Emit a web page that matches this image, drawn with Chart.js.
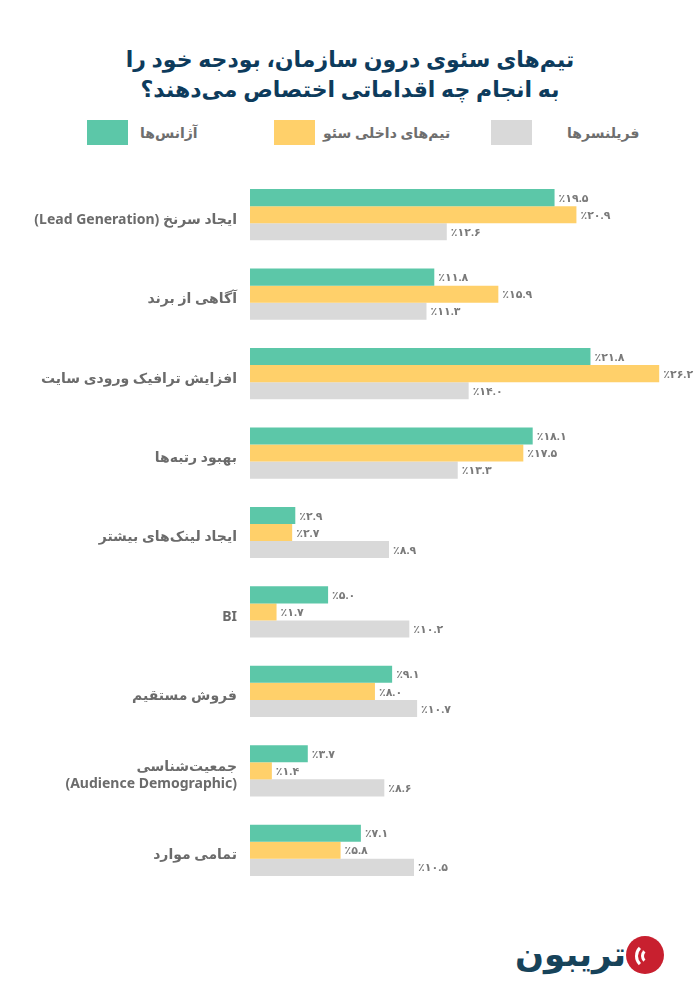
<!DOCTYPE html>
<html lang="fa">
<head>
<meta charset="utf-8">
<script src="https://cdn.jsdelivr.net/npm/chart.js@4.4.1/dist/chart.umd.min.js"></script>
<style>
  body { margin: 0; background: #fff; width: 700px; height: 1000px; position: relative; overflow: hidden;
         font-family: "Noto Sans", "DejaVu Sans", sans-serif; }
  #title { position: absolute; top: 43px; left: 0; width: 700px; text-align: center; direction: rtl;
           font-weight: bold; font-size: 22px; line-height: 30px; color: #0d3b5c; }
  .lg-box { position: absolute; top: 120px; width: 41px; height: 25px; }
  .lg-text { position: absolute; top: 120px; height: 25px; line-height: 25px; font-size: 14px;
             font-weight: bold; color: #6e6e6e; direction: rtl; white-space: nowrap; }
  #wrap { position: absolute; top: 160px; left: 0; width: 700px; height: 740px; }
  #logo-circle { position: absolute; left: 626px; top: 936px; width: 38px; height: 38px; border-radius: 50%;
                 background: #c8202f; overflow: hidden; }
  .arc { position: absolute; border: 3px solid #fff; border-radius: 50%; border-right-color: transparent;
         border-top-color: transparent; border-bottom-color: transparent; }
  #logo-text { position: absolute; right: 74px; top: 930px; font-size: 34px; font-weight: bold; color: #17435a;
               direction: rtl; line-height: 46px; }
</style>
</head>
<body>
<div id="title">تیم‌های سئوی درون سازمان، بودجه خود را<br>به انجام چه اقداماتی اختصاص می‌دهند؟</div>
<div id="legend"></div>
<div id="wrap" dir="rtl"><canvas id="chart" dir="rtl"></canvas></div>
<div id="logo-circle">
  <div class="arc" style="left:9px;top:7px;width:20px;height:20px;"></div>
  <div class="arc" style="left:15px;top:12px;width:10px;height:10px;"></div>
</div>
<div id="logo-text">تریبون</div>
<script>
const categories = [
    'ایجاد سرنخ (Lead Generation)',
    'آگاهی از برند',
    'افزایش ترافیک ورودی سایت',
    'بهبود رتبه‌ها',
    'ایجاد لینک‌های بیشتر',
    'BI',
    'فروش مستقیم',
    ['جمعیت‌شناسی', '(Audience Demographic)'],
    'تمامی موارد'
];
const agencies = [19.5, 11.8, 21.8, 18.1, 2.9, 5.0, 9.1, 3.7, 7.1];
const inHouse = [20.9, 15.9, 26.2, 17.5, 2.7, 1.7, 8.0, 1.4, 5.8];
const freelancers = [12.6, 11.3, 14.0, 13.3, 8.9, 10.2, 10.7, 8.6, 10.5];
const seriesNames = ['آژانس‌ها', 'تیم‌های داخلی سئو', 'فریلنسرها'];
const seriesColors = ['#5cc7a8', '#ffd06a', '#d9d9d9'];

// legend positions (box left, text left)
const legendSpots = [[87, 140], [274, 323], [491, 567]];

const legendEl = document.getElementById('legend');
seriesNames.forEach((name, i) => {
    const box = document.createElement('div');
    box.className = 'lg-box';
    box.style.left = legendSpots[i][0] + 'px';
    box.style.background = seriesColors[i];
    legendEl.appendChild(box);
    const txt = document.createElement('div');
    txt.className = 'lg-text';
    txt.style.left = legendSpots[i][1] + 'px';
    txt.textContent = name;
    legendEl.appendChild(txt);
});

// English digits to Persian
function toFa(v) {
    const fa = '۰۱۲۳۴۵۶۷۸۹';
    return v.toFixed(1).replace(/[0-9]/g, d => fa[d]);
}

// percent sign + value at the end of each bar
const valueLabels = {
    id: 'valueLabels',
    afterDatasetsDraw(chart) {
        const ctx = chart.ctx;
        ctx.save();
        ctx.direction = 'ltr';
        ctx.font = 'bold 11px "Noto Sans", "DejaVu Sans", sans-serif';
        ctx.fillStyle = '#7a7a7a';
        ctx.textAlign = 'left';
        ctx.textBaseline = 'middle';
        chart.data.datasets.forEach((ds, i) => {
            chart.getDatasetMeta(i).data.forEach((bar, j) => {
                const x = bar.x + 4;
                ctx.fillText('٪', x, bar.y + 1);
                ctx.fillText(toFa(ds.data[j]), x + ctx.measureText('٪').width, bar.y + 1);
            });
        });
        ctx.restore();
    }
};

const seriesData = [agencies, inHouse, freelancers];

new Chart(document.getElementById('chart'), {
    type: 'bar',
    data: {
        labels: categories,
        datasets: seriesData.map((d, i) => ({
            label: seriesNames[i],
            data: d,
            backgroundColor: seriesColors[i],
            borderWidth: 0,
            barPercentage: 1,
            categoryPercentage: 0.645
        }))
    },
    options: {
        indexAxis: 'y',
        responsive: true,
        maintainAspectRatio: false,
        animation: false,
        layout: { padding: { top: 15, bottom: 10, right: 8, left: 0 } },
        plugins: {
            legend: { display: false },
            title: { display: false },
            tooltip: { enabled: false }
        },
        scales: {
            x: { min: 0, max: 28.3, display: false },
            y: {
                grid: { display: false, drawTicks: false },
                border: { display: false },
                afterFit(scale) {
                    scale.width = 250;
                    scale.paddingTop = 0;
                    scale.paddingBottom = 0;
                },
                ticks: {
                    padding: 13,
                    labelOffset: 5,
                    color: '#6b6b6b',
                    font: { family: '"Noto Sans", "DejaVu Sans", sans-serif', size: 14, weight: 'bold' }
                }
            }
        }
    },
    plugins: [valueLabels]
});
</script>
</body>
</html>
